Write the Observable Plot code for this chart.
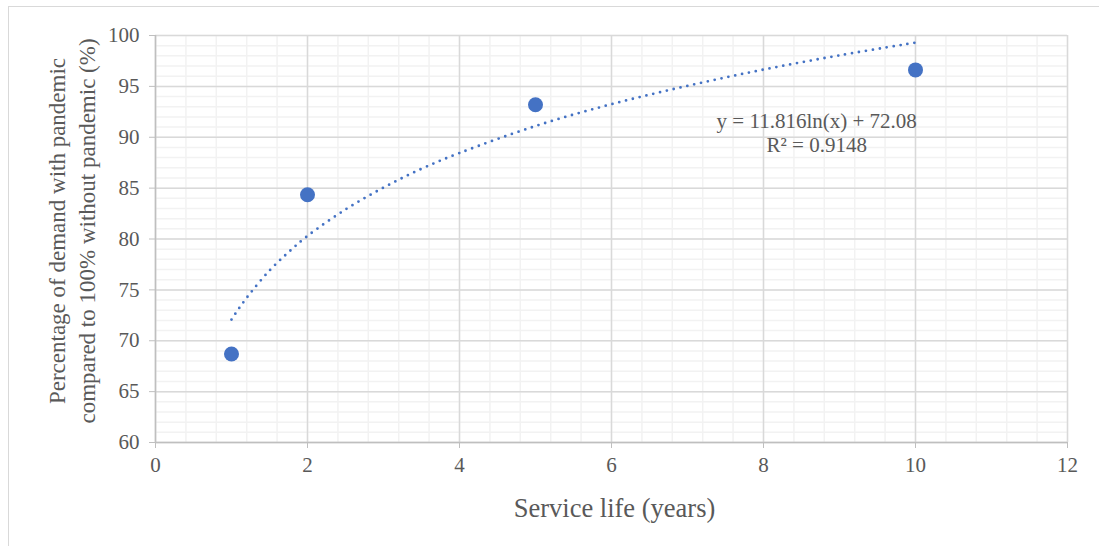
<!DOCTYPE html>
<html>
<head>
<meta charset="utf-8">
<script src="https://cdn.jsdelivr.net/npm/d3@7"></script>
<script src="https://cdn.jsdelivr.net/npm/@observablehq/plot@0.6"></script>
<style>
  html, body { margin: 0; padding: 0; background: #fff; overflow: hidden; }
  #wrap { position: relative; width: 1099px; height: 546px; }
  #border { position: absolute; left: 8px; top: 6px; width: 1200px; height: 700px; border: 1.5px solid #d9d9d9; box-sizing: border-box; }
  #chart { position: absolute; left: 0; top: 0; }
</style>
</head>
<body>
<div id="wrap"><div id="border"></div><div id="chart"></div></div>
<script>
// Observed data
const serviceLife = [1, 2, 5, 10];
const demandPct = [68.7, 84.35, 93.2, 96.62];

// Logarithmic trendline
const trendX = [1, 1.1, 1.25, 1.5, 1.75, 2, 2.5, 3, 3.5, 4, 5, 6, 7, 8, 9, 10];
const trendY = [72.08, 73.2, 74.7, 76.9, 78.7, 80.3, 82.9, 85.05, 86.9, 88.45, 91.1, 93.25, 95.05, 96.65, 98.05, 99.3];

const xTicks = [0, 2, 4, 6, 8, 10, 12];
const yTicks = [60, 65, 70, 75, 80, 85, 90, 95, 100];
const xMinor = d3.range(0, 12.001, 0.4);
const yMinor = d3.range(60, 100.001, 1);

const equationLabel = "y = 11.816ln(x) + 72.08";
const r2Label = "R² = 0.9148";
const xTitle = "Service life (years)";
const yTitle = "Percentage of demand with pandemic\ncompared to 100% without pandemic (%)";

const points = serviceLife.map((x, i) => ({x, y: demandPct[i]}));
const trend = trendX.map((x, i) => ({x, y: trendY[i]}));

const font = "'Liberation Serif', 'Times New Roman', serif";
const blue = "#4472c4";
const textColor = "#595959";

const chart = Plot.plot({
  width: 1099,
  height: 546,
  marginLeft: 155,
  marginRight: 32,
  marginTop: 35,
  marginBottom: 104,
  style: {fontFamily: font, background: "transparent", overflow: "visible"},
  x: {domain: [0, 12]},
  y: {domain: [60, 100]},
  marks: [
    Plot.ruleX(xMinor, {stroke: "#f2f2f2", strokeWidth: 1.5}),
    Plot.ruleY(yMinor, {stroke: "#f2f2f2", strokeWidth: 1.5}),
    Plot.ruleX(xTicks, {stroke: "#d9d9d9", strokeWidth: 1.5}),
    Plot.ruleY(yTicks, {stroke: "#d9d9d9", strokeWidth: 1.5}),
    Plot.ruleY([60], {stroke: "#bfbfbf", strokeWidth: 1.5}),
    Plot.ruleX([0], {stroke: "#bfbfbf", strokeWidth: 1.5}),
    Plot.axisX({ticks: xTicks, tickSize: 6, tickPadding: 9, fontSize: 21, color: textColor, stroke: "#bfbfbf", label: null, tickFormat: d => String(d)}),
    Plot.axisY({ticks: yTicks, tickSize: 6, tickPadding: 10, fontSize: 21, color: textColor, stroke: "#bfbfbf", label: null, tickFormat: d => String(d)}),
    Plot.line(trend, {x: "x", y: "y", curve: "catmull-rom", stroke: blue, strokeWidth: 2.8, strokeDasharray: "0,7", strokeLinecap: "round"}),
    Plot.dot(points, {x: "x", y: "y", r: 7.5, fill: blue, stroke: "none"}),
    Plot.text([equationLabel], {x: () => 8.7, y: () => 91.55, fontSize: 21, fill: textColor, textAnchor: "middle", lineAnchor: "middle", fontFamily: font}),
    Plot.text([r2Label], {x: () => 8.7, y: () => 89.19, fontSize: 21, fill: textColor, textAnchor: "middle", lineAnchor: "middle", fontFamily: font}),
    Plot.text([xTitle], {frameAnchor: "bottom", dx: 3, dy: 66, fontSize: 26.5, fill: textColor, textAnchor: "middle", lineAnchor: "middle", fontFamily: font}),
    Plot.text([yTitle], {frameAnchor: "left", dx: -85, dy: -8, rotate: -90, fontSize: 23, fill: textColor, textAnchor: "middle", lineAnchor: "middle", lineHeight: 1.3, fontFamily: font})
  ]
});
document.getElementById("chart").appendChild(chart);
</script>
</body>
</html>
